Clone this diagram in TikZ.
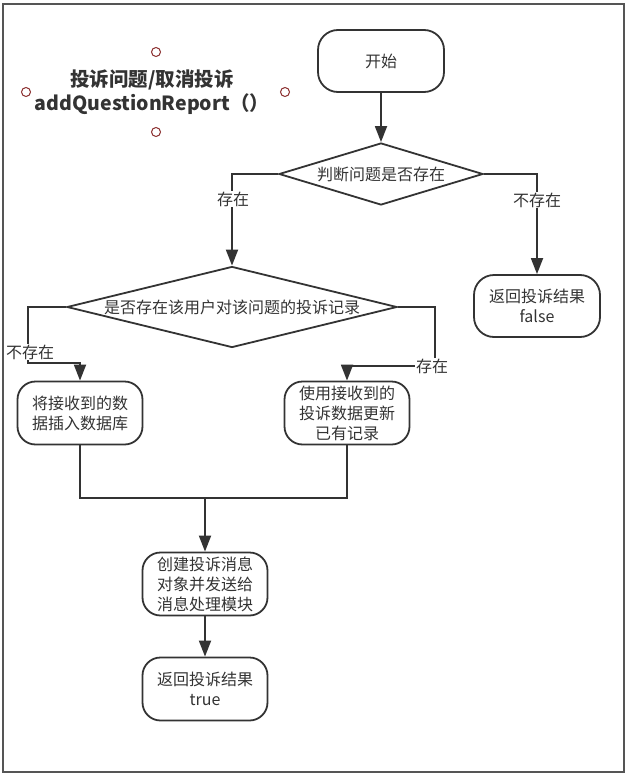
\documentclass[tikz,border=0pt]{standalone}
\usepackage{fontspec}
\setmainfont{Noto Sans CJK SC}
\usepackage{tikz}
\usetikzlibrary{arrows.meta}
\usetikzlibrary{shapes.geometric}
\definecolor{ink}{HTML}{333333}
\definecolor{frame}{HTML}{555555}
\definecolor{handle}{HTML}{8B2E2E}

\begin{document}
\begin{tikzpicture}[x=1pt, y=-1pt,
font=\fontsize{16}{20}\selectfont, text=ink,
term/.style={draw=ink, line width=1.8pt, rounded corners=20pt, minimum width=126pt, minimum height=62pt, inner sep=1pt, align=center},
proc/.style={draw=ink, line width=1.8pt, rounded corners=18pt, minimum width=125pt, minimum height=63pt, inner sep=1pt, align=center},
dec/.style={diamond, draw=ink, line width=1.8pt, inner sep=0pt},
lab/.style={fill=white, inner sep=1pt},
arr/.style={draw=ink, line width=1.8pt, -{Triangle[length=16pt,width=12pt]}},
ln/.style={draw=ink, line width=1.8pt}]
\useasboundingbox (0,0) rectangle (627,776);
\draw[frame, line width=2pt] (3,4) rectangle (624,772);
% title with its handles
\node[align=center, font=\fontsize{19.5}{24}\selectfont\bfseries] (title) at (152,92) {投诉问题/取消投诉\\addQuestionReport（）};
\foreach \p in {(156,52),(26,92),(285,92),(156,132)}
  \draw[handle, line width=1pt, fill=white] \p circle (4.5pt);
\node[term] (start) at (381,61) {开始};
\node[dec, shape aspect=3.3, minimum width=204pt, minimum height=62pt] (d1) at (381,174) {判断问题是否存在};
\node[term] (false) at (537,306) {返回投诉结果\\false};
\node[dec, shape aspect=4.07, minimum width=330pt, minimum height=81pt] (d2) at (232,307) {是否存在该用户对该问题的投诉记录};
\node[proc] (ins) at (80,413) {将接收到的数\\据插入数据库};
\node[proc] (upd) at (347,413) {使用接收到的\\投诉数据更新\\已有记录};
\node[proc] (msg) at (205,584) {创建投诉消息\\对象并发送给\\消息处理模块};
\node[proc] (ret) at (205,689) {返回投诉结果\\true};
\coordinate (l1) at (28,363);
\coordinate (r1) at (435,366);
\coordinate (mL) at (80,498);
\coordinate (mR) at (347,498);
\coordinate (m) at (205,498);
\draw[arr] (start) -- (d1);
\draw[arr] (d1.west) -| (d2.north);
\draw[arr] (d1.east) -| (false.north);
\draw[arr] (d2.west) -| (l1) -| (ins.north);
\draw[arr] (d2.east) -| (r1) -| (upd.north);
\draw[ln] (ins.south) -- (mL) -- (mR) -- (upd.south);
\draw[arr] (m) -- (msg);
\draw[arr] (msg) -- (ret);
\node[lab] (yes1) at (233,199) {存在};
\node[lab] (no1) at (537,200) {不存在};
\node[lab] (no2) at (30,352) {不存在};
\node[lab] (yes2) at (432,366) {存在};
\end{tikzpicture}
\end{document}
